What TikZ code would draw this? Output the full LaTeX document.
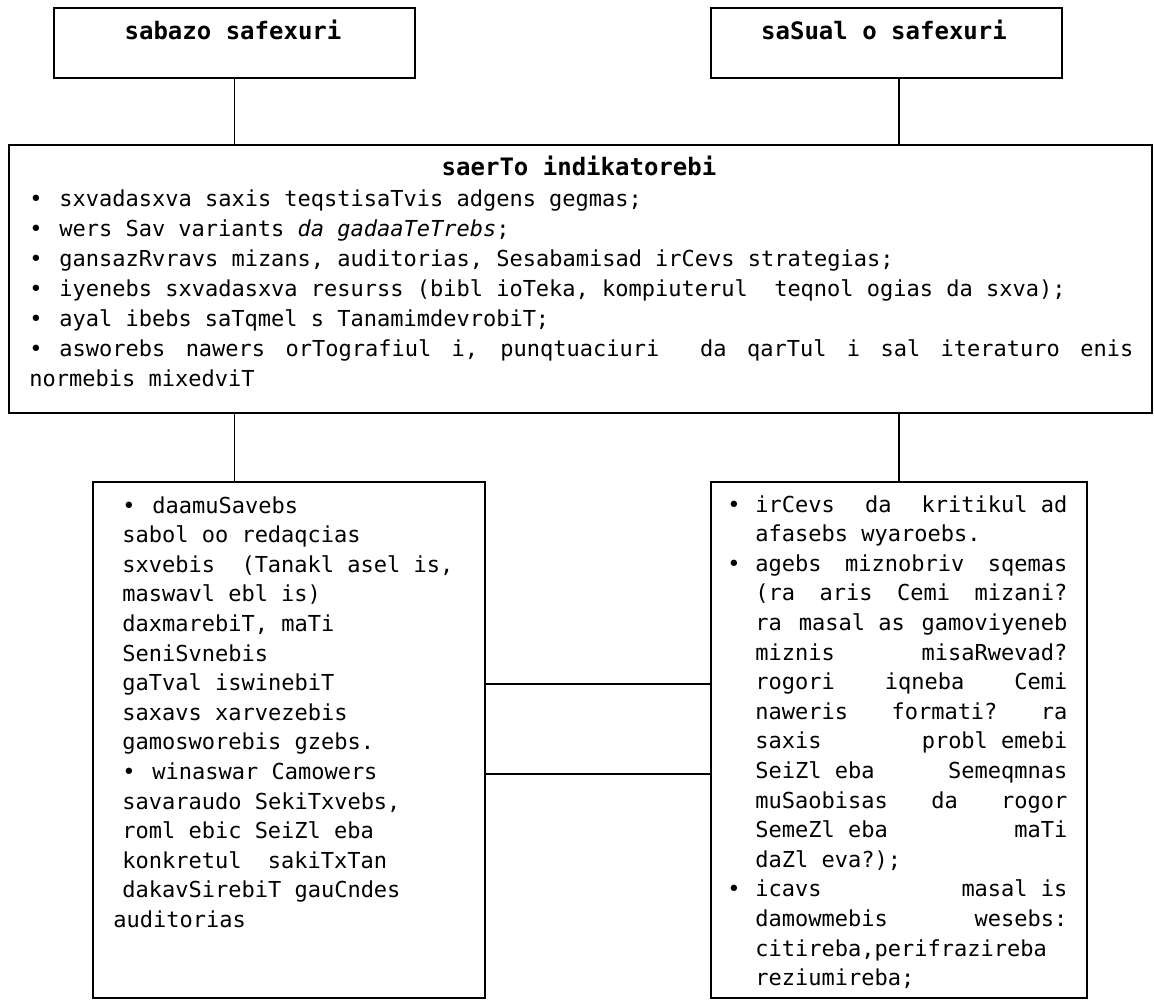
\documentclass[tikz,border=0pt]{standalone}
\usepackage{fontspec}
\setmonofont{DejaVu Sans Mono}
\usepackage{tikz}

\newcommand{\bul}[1]{\makebox[#1][l]{•}}
\newcommand{\jl}[1]{\makebox[156pt][s]{#1}}
\newcommand{\widespace}{\spaceskip=0.6em plus 0.4em\relax\xspaceskip=\spaceskip}

\begin{document}
\begin{tikzpicture}[x=0.5pt, y=-0.5pt,
    box/.style={draw, line width=1pt, inner sep=0pt, outer sep=0pt},
    link/.style={line width=0.8pt},
    head/.style={font=\ttfamily\bfseries\fontsize{12}{14}\selectfont, inner sep=0pt, anchor=base},
    body/.style={font={\ttfamily\fontsize{11}{#1}\selectfont},
      inner sep=0pt, anchor=base west, align=left}]
  \useasboundingbox (0,0) rectangle (1154,1000);

  \node [box, minimum width=180.5pt, minimum height=35pt] (basic) at (234.5,43) {};
  \node [box, minimum width=175.5pt, minimum height=35pt] (medium) at (886.5,43) {};
  \node [box, minimum width=571.5pt, minimum height=134pt] (common) at (580.5,279) {};
  \node [box, minimum width=196pt, minimum height=258pt] (leftlow) at (289,740) {};
  \node [box, minimum width=188pt, minimum height=258pt] (rightlow) at (899,740) {};

  \node [head] (basictitle) at (233,40) {sabazo safexuri};
  \node [head] (mediumtitle) at (884,40) {saSual o safexuri};
  \node [head] (commontitle) at (579,176) {saerTo indikatorebi};

  \node [body=15, text width=560pt] (commonlist) at (29,206) {\widespace
    \bul{15pt}sxvadasxva saxis teqstisaTvis adgens gegmas;\\
    \bul{15pt}wers Sav variants \textit{da gadaaTeTrebs};\\
    \bul{15pt}gansazRvravs mizans, auditorias, Sesabamisad irCevs strategias;\\
    \bul{15pt}iyenebs sxvadasxva resurss (bibl ioTeka, kompiuterul\ \ teqnol ogias da sxva);\\
    \bul{15pt}ayal ibebs saTqmel s TanamimdevrobiT;\\
    \bul{15pt}\makebox[537pt][s]{asworebs nawers orTografiul i, punqtuaciuri\ \ da qarTul i sal iteraturo enis}\\
    normebis mixedviT};

  \node [body=14.8, text width=190pt] (leftlist) at (122,513) {\widespace
    \bul{15pt}daamuSavebs\\
    sabol oo redaqcias\\
    sxvebis\ \ (Tanakl asel is,\\
    maswavl ebl is)\\
    daxmarebiT, maTi\\
    SeniSvnebis\\
    gaTval iswinebiT\\
    saxavs xarvezebis\\
    gamosworebis gzebs.\\
    \bul{15pt}winaswar Camowers\\
    savaraudo SekiTxvebs,\\
    roml ebic SeiZl eba\\
    konkretul\ \ sakiTxTan\\
    dakavSirebiT gauCndes\\
    \hspace*{-4.5pt}auditorias};

  \node [body=14.8, text width=180pt] (rightlist) at (727,512) {\widespace
    \bul{14pt}\jl{irCevs\hfill da\hfill kritikul ad}\\
    \hspace*{14pt}afasebs wyaroebs.\\
    \bul{14pt}\jl{agebs\hfill miznobriv\hfill sqemas}\\
    \hspace*{14pt}\jl{(ra\hfill aris\hfill Cemi\hfill mizani?}\\
    \hspace*{14pt}\jl{ra\hfill masal as\hfill gamoviyeneb}\\
    \hspace*{14pt}\jl{miznis\hfill misaRwevad?}\\
    \hspace*{14pt}\jl{rogori\hfill iqneba\hfill Cemi}\\
    \hspace*{14pt}\jl{naweris\hfill formati?\hfill ra}\\
    \hspace*{14pt}\jl{saxis\hfill probl emebi}\\
    \hspace*{14pt}\jl{SeiZl eba\hfill Semeqmnas}\\
    \hspace*{14pt}\jl{muSaobisas\hfill da\hfill rogor}\\
    \hspace*{14pt}\jl{SemeZl eba\hfill maTi}\\
    \hspace*{14pt}daZl eva?);\\
    \bul{14pt}\jl{icavs\hfill masal is}\\
    \hspace*{14pt}\jl{damowmebis\hfill wesebs:}\\
    \hspace*{14pt}citireba,perifrazireba\\
    \hspace*{14pt}reziumireba;};

  \coordinate (upper) at (0,684);
  \coordinate (lower) at (0,774);

  \draw [link] (basic.south) -- (basic.south |- common.north);
  \draw [link] (rightlow.north |- medium.south) -- (rightlow.north |- common.north);
  \draw [link] (basic.south |- common.south) -- (basic.south |- leftlow.north);
  \draw [link] (rightlow.north |- common.south) -- (rightlow.north);
  \draw [link] (leftlow.east |- upper) -- (rightlow.west |- upper);
  \draw [link] (leftlow.east |- lower) -- (rightlow.west |- lower);
\end{tikzpicture}
\end{document}
